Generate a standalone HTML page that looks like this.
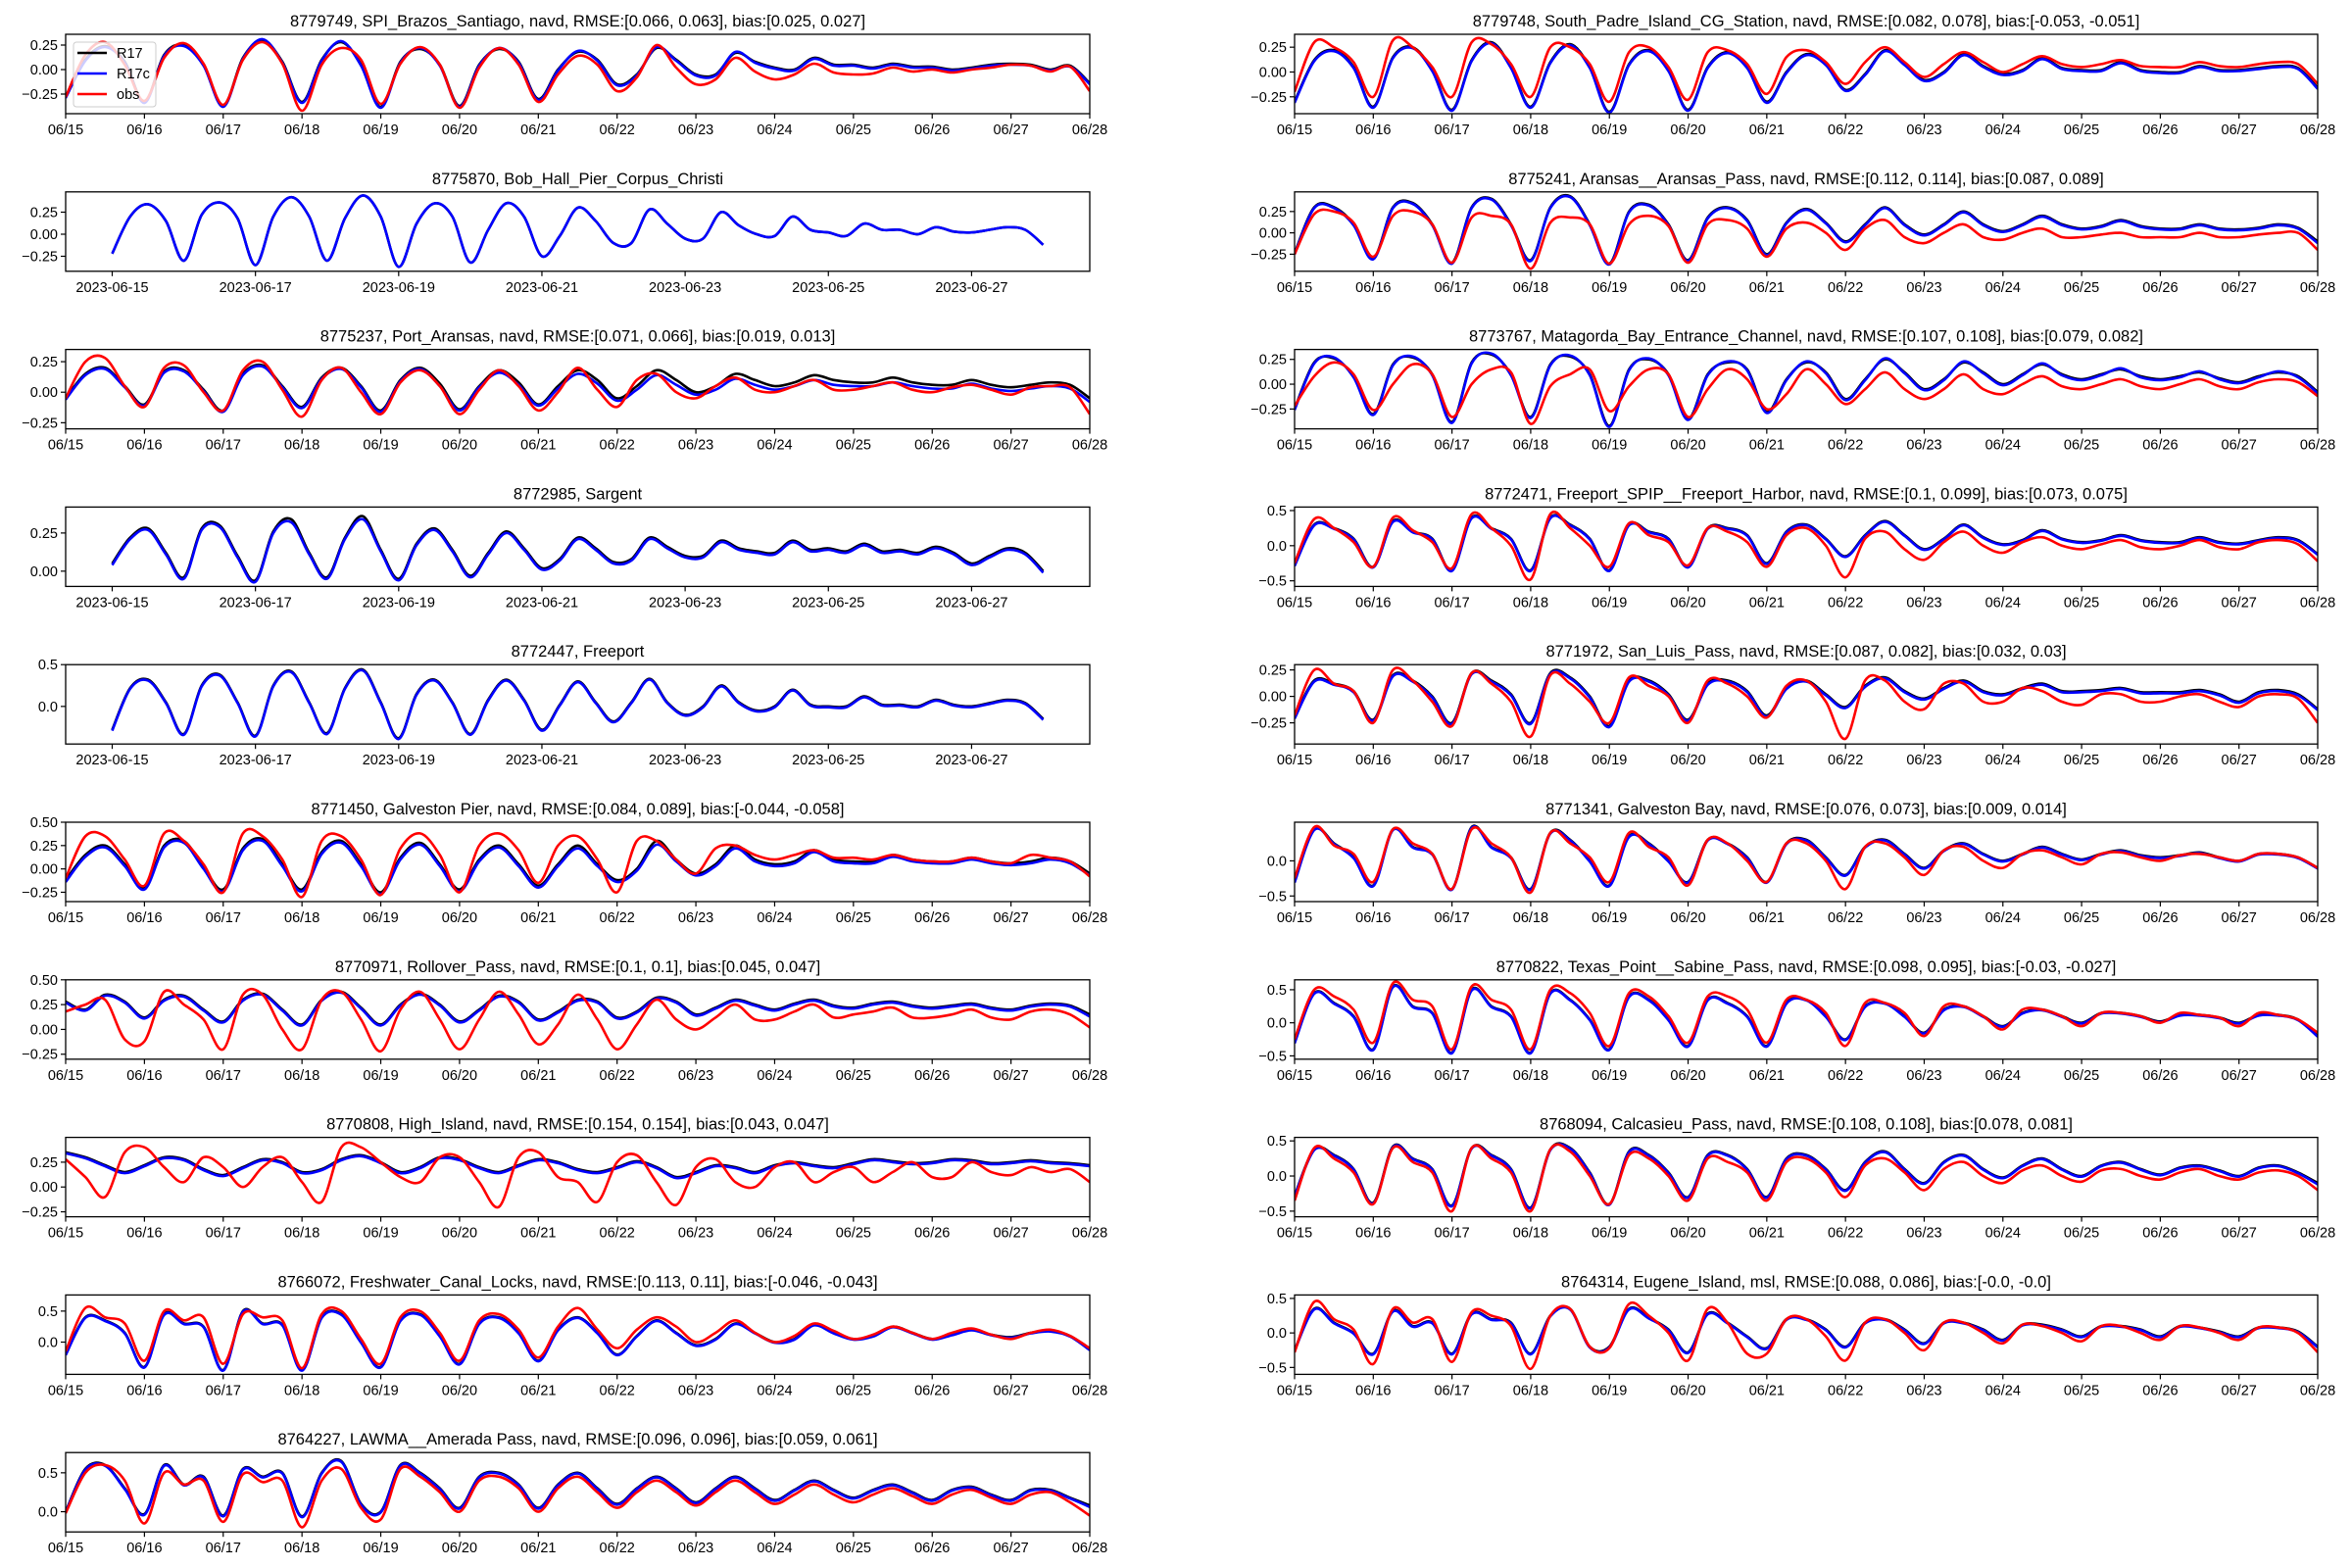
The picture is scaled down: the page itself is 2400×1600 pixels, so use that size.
<!DOCTYPE html>
<html><head><meta charset="utf-8">
<style>
html,body{margin:0;padding:0;background:#fff;}
svg{display:block;font-family:"Liberation Sans","DejaVu Sans",sans-serif;}
</style></head>
<body>
<svg id="fig" width="2400" height="1600" viewBox="0 0 2400 1600" xmlns="http://www.w3.org/2000/svg"></svg>
<script>
// ---- data: water level (m), sampled every 6 h from 2023-06-15 00:00 to 2023-06-28 00:00 ----
const dayLabels = ["06/15","06/16","06/17","06/18","06/19","06/20","06/21","06/22","06/23","06/24","06/25","06/26","06/27","06/28"];
const isoLabels = ["2023-06-15","2023-06-17","2023-06-19","2023-06-21","2023-06-23","2023-06-25","2023-06-27"];
const seriesNames = ["R17","R17c","obs"];

// L0 8779749 SPI_Brazos_Santiago
const r17_8779749  = [-0.28,0.10,0.24,0.08,-0.33,0.15,0.25,0.05,-0.37,0.12,0.30,0.08,-0.33,0.10,0.28,0.05,-0.38,0.08,0.21,0.05,-0.37,0.05,0.21,0.08,-0.30,0.00,0.18,0.10,-0.15,-0.05,0.22,0.10,-0.05,-0.05,0.17,0.08,0.02,0.00,0.12,0.05,0.05,0.02,0.06,0.03,0.03,0.00,0.02,0.05,0.06,0.05,0.00,0.04,-0.14];
const r17c_8779749 = [-0.29,0.09,0.23,0.07,-0.34,0.14,0.24,0.04,-0.38,0.11,0.31,0.07,-0.34,0.09,0.29,0.04,-0.39,0.07,0.22,0.04,-0.38,0.04,0.22,0.07,-0.31,-0.01,0.19,0.09,-0.16,-0.06,0.23,0.09,-0.06,-0.06,0.18,0.07,0.01,-0.01,0.11,0.04,0.04,0.01,0.05,0.02,0.02,-0.01,0.01,0.04,0.05,0.04,-0.01,0.03,-0.15];
const obs_8779749  = [-0.28,0.15,0.28,0.05,-0.32,0.12,0.27,0.06,-0.36,0.10,0.28,0.06,-0.42,0.05,0.22,0.10,-0.35,0.06,0.23,0.05,-0.39,0.02,0.22,0.05,-0.33,-0.05,0.14,0.05,-0.22,-0.08,0.25,0.02,-0.15,-0.10,0.12,-0.02,-0.10,-0.05,0.06,-0.03,-0.05,-0.04,0.02,-0.02,0.00,-0.03,0.00,0.02,0.05,0.04,-0.02,0.03,-0.22];
// L1 8775870 Bob_Hall_Pier_Corpus_Christi
const r17_8775870  = [-0.22,0.20,0.34,0.15,-0.30,0.22,0.36,0.18,-0.35,0.20,0.42,0.20,-0.30,0.18,0.44,0.20,-0.37,0.12,0.35,0.20,-0.32,0.05,0.35,0.20,-0.25,-0.02,0.30,0.15,-0.10,-0.10,0.28,0.12,-0.05,-0.05,0.25,0.10,0.00,-0.02,0.20,0.05,0.02,-0.02,0.12,0.05,0.05,0.00,0.08,0.03,0.02,0.05,0.08,0.05,-0.12];
const r17c_8775870 = [-0.22,0.20,0.34,0.15,-0.30,0.22,0.36,0.18,-0.35,0.20,0.42,0.20,-0.30,0.18,0.44,0.20,-0.37,0.12,0.35,0.20,-0.32,0.05,0.35,0.20,-0.25,-0.02,0.30,0.15,-0.10,-0.10,0.28,0.12,-0.05,-0.05,0.25,0.10,0.00,-0.02,0.20,0.05,0.02,-0.02,0.12,0.05,0.05,0.00,0.08,0.03,0.02,0.05,0.08,0.05,-0.12];
// L2 8775237 Port_Aransas
const r17_8775237  = [-0.05,0.15,0.20,0.05,-0.10,0.17,0.18,0.02,-0.15,0.15,0.22,0.05,-0.12,0.12,0.20,0.05,-0.15,0.10,0.20,0.07,-0.14,0.05,0.18,0.08,-0.10,0.05,0.18,0.10,-0.05,0.05,0.18,0.10,0.00,0.05,0.15,0.10,0.05,0.08,0.14,0.10,0.08,0.08,0.12,0.08,0.06,0.06,0.10,0.06,0.04,0.06,0.08,0.06,-0.05];
const r17c_8775237 = [-0.06,0.14,0.19,0.04,-0.11,0.16,0.17,0.01,-0.16,0.14,0.21,0.04,-0.13,0.11,0.19,0.04,-0.16,0.09,0.19,0.05,-0.15,0.04,0.16,0.06,-0.11,0.03,0.15,0.07,-0.07,0.02,0.14,0.06,-0.02,0.02,0.11,0.06,0.02,0.05,0.10,0.06,0.05,0.05,0.08,0.05,0.03,0.03,0.07,0.03,0.01,0.03,0.05,0.03,-0.08];
const obs_8775237  = [-0.05,0.25,0.28,0.05,-0.12,0.20,0.22,0.00,-0.15,0.18,0.25,0.02,-0.20,0.10,0.20,0.00,-0.18,0.08,0.18,0.05,-0.18,0.02,0.18,0.05,-0.15,0.00,0.20,0.02,-0.12,0.10,0.15,0.00,-0.05,0.05,0.12,0.02,0.00,0.05,0.10,0.02,0.02,0.05,0.08,0.02,0.00,0.04,0.06,0.02,-0.02,0.04,0.05,0.04,-0.18];
// L3 8772985 Sargent
const r17_8772985  = [0.05,0.22,0.28,0.12,-0.04,0.28,0.30,0.10,-0.06,0.26,0.34,0.12,-0.04,0.22,0.36,0.14,-0.05,0.18,0.28,0.14,-0.03,0.12,0.26,0.15,0.02,0.08,0.22,0.15,0.06,0.08,0.22,0.16,0.10,0.10,0.20,0.15,0.13,0.12,0.20,0.14,0.15,0.13,0.18,0.13,0.14,0.12,0.16,0.12,0.05,0.10,0.15,0.12,0.00];
const r17c_8772985 = [0.04,0.21,0.27,0.11,-0.05,0.27,0.29,0.09,-0.07,0.25,0.32,0.11,-0.05,0.21,0.34,0.13,-0.06,0.17,0.27,0.13,-0.04,0.11,0.25,0.14,0.01,0.07,0.21,0.14,0.05,0.07,0.21,0.15,0.09,0.09,0.19,0.14,0.12,0.11,0.19,0.13,0.14,0.12,0.17,0.12,0.13,0.11,0.15,0.11,0.04,0.09,0.14,0.11,-0.01];
// L4 8772447 Freeport
const r17_8772447  = [-0.28,0.22,0.32,0.05,-0.33,0.25,0.38,0.05,-0.35,0.25,0.42,0.05,-0.32,0.22,0.44,0.05,-0.38,0.15,0.32,0.05,-0.33,0.08,0.32,0.08,-0.28,0.02,0.30,0.05,-0.18,0.05,0.33,0.05,-0.10,0.00,0.25,0.05,-0.05,0.00,0.20,0.02,0.00,0.00,0.12,0.02,0.02,0.00,0.08,0.02,0.00,0.04,0.08,0.04,-0.15];
const r17c_8772447 = [-0.29,0.21,0.31,0.04,-0.34,0.24,0.37,0.04,-0.36,0.24,0.41,0.04,-0.33,0.21,0.43,0.04,-0.39,0.14,0.31,0.04,-0.34,0.07,0.31,0.07,-0.29,0.01,0.29,0.04,-0.19,0.04,0.32,0.04,-0.11,-0.01,0.24,0.04,-0.06,-0.01,0.19,0.01,-0.01,-0.01,0.11,0.01,0.01,-0.01,0.07,0.01,-0.01,0.03,0.07,0.03,-0.16];
// L5 8771450 Galveston Pier
const r17_8771450  = [-0.12,0.15,0.25,0.05,-0.20,0.25,0.30,0.02,-0.22,0.22,0.32,0.05,-0.22,0.18,0.30,0.05,-0.25,0.12,0.28,0.05,-0.22,0.10,0.25,0.05,-0.18,0.05,0.25,0.05,-0.12,0.00,0.30,0.10,-0.05,0.05,0.25,0.10,0.05,0.08,0.20,0.10,0.08,0.08,0.15,0.10,0.08,0.08,0.12,0.08,0.06,0.08,0.12,0.08,-0.05];
const r17c_8771450 = [-0.14,0.13,0.23,0.03,-0.22,0.23,0.28,0.00,-0.24,0.20,0.30,0.03,-0.24,0.16,0.28,0.03,-0.27,0.10,0.26,0.03,-0.24,0.08,0.23,0.03,-0.20,0.03,0.22,0.03,-0.14,-0.02,0.26,0.08,-0.07,0.03,0.22,0.08,0.03,0.06,0.18,0.08,0.06,0.06,0.13,0.08,0.06,0.06,0.10,0.06,0.04,0.06,0.10,0.06,-0.07];
const obs_8771450  = [-0.10,0.35,0.35,0.10,-0.18,0.38,0.30,0.05,-0.25,0.38,0.35,0.10,-0.30,0.30,0.35,0.10,-0.28,0.22,0.38,0.15,-0.25,0.25,0.38,0.20,-0.15,0.25,0.35,0.10,-0.25,0.30,0.30,0.10,-0.05,0.22,0.25,0.15,0.10,0.15,0.20,0.12,0.12,0.10,0.15,0.10,0.08,0.08,0.12,0.08,0.06,0.15,0.12,0.08,-0.08];
// L6 8770971 Rollover_Pass
const r17_8770971  = [0.28,0.20,0.35,0.28,0.12,0.30,0.34,0.20,0.08,0.30,0.36,0.20,0.05,0.30,0.38,0.22,0.05,0.25,0.36,0.25,0.08,0.20,0.34,0.28,0.10,0.18,0.30,0.28,0.12,0.18,0.32,0.28,0.15,0.22,0.30,0.25,0.20,0.26,0.30,0.24,0.22,0.26,0.28,0.24,0.22,0.24,0.26,0.22,0.20,0.24,0.26,0.24,0.15];
const r17c_8770971 = [0.27,0.19,0.34,0.27,0.11,0.29,0.33,0.19,0.07,0.29,0.35,0.19,0.04,0.29,0.37,0.21,0.04,0.24,0.35,0.24,0.07,0.19,0.33,0.27,0.09,0.17,0.29,0.27,0.11,0.17,0.31,0.27,0.14,0.21,0.29,0.24,0.19,0.25,0.29,0.23,0.21,0.25,0.27,0.23,0.21,0.23,0.25,0.21,0.19,0.23,0.25,0.23,0.13];
const obs_8770971  = [0.18,0.25,0.30,-0.10,-0.12,0.38,0.25,0.10,-0.20,0.35,0.35,0.00,-0.20,0.30,0.38,0.10,-0.22,0.20,0.38,0.10,-0.20,0.10,0.38,0.15,-0.15,0.05,0.35,0.10,-0.20,0.05,0.30,0.10,0.00,0.12,0.25,0.10,0.10,0.18,0.25,0.12,0.15,0.18,0.22,0.12,0.12,0.15,0.20,0.12,0.10,0.18,0.20,0.15,0.02];
// L7 8770808 High_Island
const r17_8770808  = [0.35,0.30,0.22,0.15,0.22,0.30,0.28,0.18,0.12,0.20,0.28,0.25,0.15,0.18,0.28,0.32,0.25,0.15,0.20,0.30,0.28,0.20,0.15,0.22,0.28,0.25,0.18,0.15,0.20,0.26,0.20,0.10,0.15,0.22,0.20,0.15,0.22,0.25,0.22,0.20,0.24,0.28,0.26,0.24,0.25,0.28,0.27,0.24,0.25,0.27,0.25,0.24,0.22];
const r17c_8770808 = [0.34,0.29,0.21,0.14,0.21,0.29,0.27,0.17,0.11,0.19,0.27,0.24,0.14,0.17,0.27,0.31,0.24,0.14,0.19,0.29,0.27,0.19,0.14,0.21,0.27,0.24,0.17,0.14,0.19,0.25,0.19,0.09,0.14,0.21,0.19,0.14,0.21,0.24,0.21,0.19,0.23,0.27,0.25,0.23,0.24,0.27,0.26,0.23,0.24,0.26,0.24,0.23,0.21];
const obs_8770808  = [0.28,0.10,-0.10,0.35,0.40,0.20,0.05,0.30,0.20,0.00,0.20,0.30,0.05,-0.15,0.40,0.40,0.25,0.10,0.05,0.30,0.30,0.05,-0.20,0.30,0.35,0.10,0.05,-0.15,0.25,0.32,0.05,-0.18,0.20,0.28,0.05,0.00,0.20,0.25,0.05,0.15,0.20,0.05,0.15,0.25,0.10,0.10,0.25,0.15,0.12,0.20,0.15,0.18,0.05];
// L8 8766072 Freshwater_Canal_Locks
const r17_8766072  = [-0.20,0.40,0.35,0.15,-0.40,0.45,0.30,0.25,-0.45,0.50,0.30,0.28,-0.45,0.40,0.45,0.00,-0.40,0.35,0.45,0.10,-0.35,0.30,0.40,0.15,-0.30,0.20,0.40,0.15,-0.20,0.10,0.35,0.15,-0.05,0.05,0.30,0.15,0.00,0.05,0.28,0.15,0.05,0.10,0.25,0.15,0.05,0.12,0.20,0.12,0.08,0.15,0.18,0.10,-0.12];
const r17c_8766072 = [-0.21,0.39,0.34,0.14,-0.41,0.44,0.29,0.24,-0.46,0.49,0.29,0.27,-0.46,0.39,0.44,-0.01,-0.41,0.34,0.44,0.09,-0.36,0.29,0.39,0.14,-0.31,0.19,0.39,0.14,-0.21,0.09,0.34,0.14,-0.06,0.04,0.29,0.14,-0.01,0.04,0.27,0.14,0.04,0.09,0.24,0.14,0.04,0.11,0.19,0.11,0.07,0.14,0.17,0.09,-0.13];
const obs_8766072  = [-0.15,0.55,0.40,0.30,-0.30,0.50,0.35,0.40,-0.35,0.45,0.40,0.35,-0.42,0.45,0.50,0.05,-0.35,0.40,0.50,0.15,-0.30,0.35,0.45,0.20,-0.25,0.25,0.55,0.20,-0.10,0.20,0.40,0.25,0.00,0.15,0.35,0.15,0.00,0.10,0.30,0.18,0.05,0.12,0.25,0.15,0.05,0.15,0.22,0.12,0.05,0.15,0.20,0.10,-0.10];
// L9 8764227 LAWMA__Amerada Pass
const r17_8764227  = [0.00,0.55,0.60,0.30,-0.03,0.60,0.35,0.45,-0.05,0.55,0.45,0.50,-0.06,0.50,0.65,0.10,0.00,0.60,0.50,0.30,0.05,0.45,0.50,0.35,0.05,0.35,0.50,0.30,0.10,0.30,0.45,0.30,0.12,0.30,0.45,0.30,0.15,0.28,0.40,0.28,0.18,0.28,0.35,0.25,0.15,0.28,0.32,0.22,0.15,0.28,0.28,0.18,0.08];
const r17c_8764227 = [-0.01,0.54,0.59,0.29,-0.04,0.59,0.34,0.44,-0.06,0.54,0.44,0.49,-0.07,0.49,0.64,0.09,-0.01,0.59,0.49,0.29,0.04,0.44,0.49,0.34,0.04,0.34,0.49,0.29,0.09,0.29,0.44,0.29,0.11,0.29,0.44,0.29,0.14,0.27,0.39,0.27,0.17,0.27,0.34,0.24,0.14,0.27,0.31,0.21,0.14,0.27,0.27,0.17,0.06];
const obs_8764227  = [-0.02,0.50,0.60,0.40,-0.15,0.50,0.35,0.40,-0.13,0.48,0.38,0.40,-0.20,0.40,0.55,0.05,-0.10,0.55,0.45,0.25,0.00,0.40,0.45,0.30,0.00,0.30,0.45,0.25,0.05,0.25,0.40,0.25,0.08,0.25,0.40,0.25,0.10,0.22,0.35,0.22,0.12,0.22,0.30,0.20,0.10,0.22,0.28,0.18,0.10,0.22,0.25,0.12,-0.05];
// R0 8779748 South_Padre_Island_CG_Station
const r17_8779748  = [-0.30,0.12,0.22,0.05,-0.35,0.15,0.25,0.02,-0.38,0.12,0.30,0.05,-0.35,0.10,0.28,0.05,-0.40,0.08,0.22,0.02,-0.38,0.05,0.20,0.05,-0.30,0.00,0.18,0.08,-0.18,-0.02,0.22,0.08,-0.08,0.00,0.18,0.06,-0.02,0.02,0.14,0.04,0.02,0.02,0.10,0.02,0.00,0.00,0.06,0.02,0.02,0.04,0.06,0.04,-0.16];
const r17c_8779748 = [-0.31,0.11,0.21,0.04,-0.36,0.14,0.24,0.01,-0.39,0.11,0.29,0.04,-0.36,0.09,0.27,0.04,-0.41,0.07,0.21,0.01,-0.39,0.04,0.19,0.04,-0.31,-0.01,0.17,0.07,-0.19,-0.03,0.21,0.07,-0.09,-0.01,0.17,0.05,-0.03,0.01,0.13,0.03,0.01,0.01,0.09,0.01,-0.01,-0.01,0.05,0.01,0.01,0.03,0.05,0.03,-0.17];
const obs_8779748  = [-0.20,0.30,0.25,0.10,-0.25,0.32,0.25,0.05,-0.25,0.30,0.28,0.08,-0.25,0.25,0.25,0.08,-0.30,0.20,0.25,0.05,-0.28,0.20,0.22,0.08,-0.22,0.15,0.22,0.10,-0.12,0.10,0.25,0.10,-0.05,0.08,0.20,0.10,0.00,0.08,0.16,0.08,0.05,0.08,0.12,0.06,0.05,0.05,0.10,0.06,0.05,0.08,0.10,0.08,-0.12];
// R1 8775241 Aransas__Aransas_Pass
const r17_8775241  = [-0.24,0.30,0.30,0.10,-0.30,0.30,0.35,0.10,-0.35,0.30,0.40,0.10,-0.32,0.30,0.43,0.10,-0.36,0.25,0.33,0.10,-0.32,0.18,0.30,0.15,-0.25,0.12,0.28,0.12,-0.10,0.10,0.30,0.10,-0.02,0.10,0.25,0.10,0.02,0.10,0.20,0.10,0.05,0.08,0.15,0.08,0.05,0.05,0.10,0.05,0.04,0.06,0.10,0.06,-0.10];
const r17c_8775241 = [-0.25,0.29,0.29,0.09,-0.31,0.29,0.34,0.09,-0.36,0.29,0.39,0.09,-0.33,0.29,0.42,0.09,-0.37,0.24,0.32,0.09,-0.33,0.17,0.29,0.14,-0.26,0.11,0.27,0.11,-0.11,0.09,0.29,0.09,-0.03,0.09,0.24,0.09,0.01,0.09,0.19,0.09,0.04,0.07,0.14,0.07,0.04,0.04,0.09,0.04,0.03,0.05,0.09,0.05,-0.12];
const obs_8775241  = [-0.25,0.22,0.25,0.12,-0.28,0.20,0.25,0.10,-0.35,0.18,0.20,0.10,-0.42,0.12,0.18,0.10,-0.36,0.10,0.20,0.08,-0.35,0.10,0.15,0.05,-0.28,0.05,0.12,0.00,-0.20,0.05,0.15,-0.05,-0.12,0.00,0.10,-0.05,-0.08,0.00,0.05,-0.05,-0.05,-0.02,0.00,-0.05,-0.05,-0.05,0.00,-0.05,-0.05,-0.02,0.00,0.00,-0.20];
// R2 8773767 Matagorda_Bay_Entrance_Channel
const r17_8773767  = [-0.25,0.22,0.26,0.08,-0.30,0.20,0.27,0.10,-0.38,0.22,0.30,0.10,-0.33,0.20,0.28,0.10,-0.42,0.15,0.25,0.10,-0.35,0.10,0.22,0.15,-0.28,0.05,0.22,0.12,-0.15,0.05,0.25,0.12,-0.05,0.05,0.22,0.12,0.00,0.10,0.20,0.10,0.05,0.10,0.15,0.08,0.05,0.08,0.12,0.06,0.02,0.08,0.12,0.08,-0.08];
const r17c_8773767 = [-0.26,0.21,0.27,0.07,-0.31,0.19,0.28,0.09,-0.39,0.21,0.31,0.09,-0.34,0.19,0.29,0.09,-0.43,0.14,0.26,0.09,-0.36,0.09,0.23,0.14,-0.29,0.04,0.23,0.11,-0.16,0.04,0.26,0.11,-0.06,0.04,0.23,0.11,-0.01,0.09,0.21,0.09,0.04,0.09,0.16,0.07,0.04,0.07,0.13,0.05,0.01,0.07,0.13,0.07,-0.09];
const obs_8773767  = [-0.22,0.08,0.22,0.10,-0.26,0.00,0.20,0.10,-0.33,0.00,0.15,0.12,-0.40,-0.02,0.10,0.15,-0.27,-0.02,0.15,0.10,-0.33,-0.05,0.15,0.05,-0.25,-0.10,0.15,0.00,-0.20,-0.05,0.12,-0.05,-0.15,-0.05,0.10,-0.05,-0.10,0.00,0.08,-0.02,-0.05,0.00,0.05,-0.02,-0.05,0.00,0.05,-0.02,-0.05,0.02,0.05,0.02,-0.12];
// R3 8772471 Freeport_SPIP__Freeport_Harbor
const r17_8772471  = [-0.28,0.30,0.25,0.10,-0.30,0.35,0.20,0.10,-0.35,0.40,0.25,0.10,-0.35,0.40,0.30,0.10,-0.35,0.30,0.20,0.10,-0.30,0.25,0.25,0.15,-0.25,0.20,0.30,0.10,-0.15,0.15,0.35,0.15,-0.05,0.10,0.30,0.12,0.02,0.08,0.22,0.10,0.05,0.08,0.15,0.08,0.05,0.05,0.12,0.05,0.03,0.08,0.12,0.08,-0.12];
const r17c_8772471 = [-0.29,0.29,0.24,0.09,-0.31,0.34,0.19,0.09,-0.36,0.39,0.24,0.09,-0.36,0.39,0.29,0.09,-0.36,0.29,0.19,0.09,-0.31,0.24,0.24,0.14,-0.26,0.19,0.29,0.09,-0.16,0.14,0.34,0.14,-0.06,0.09,0.29,0.11,0.01,0.07,0.21,0.09,0.04,0.07,0.14,0.07,0.04,0.04,0.11,0.04,0.02,0.07,0.11,0.07,-0.13];
const obs_8772471  = [-0.25,0.38,0.25,0.05,-0.30,0.40,0.22,0.05,-0.32,0.45,0.25,0.00,-0.48,0.45,0.25,0.00,-0.30,0.32,0.15,0.05,-0.28,0.25,0.20,0.05,-0.30,0.15,0.25,0.00,-0.45,0.10,0.20,-0.05,-0.20,0.05,0.20,0.00,-0.10,0.05,0.12,0.00,-0.05,0.02,0.08,-0.02,-0.05,0.00,0.08,-0.02,-0.05,0.05,0.08,0.02,-0.22];
// R4 8771972 San_Luis_Pass
const r17_8771972  = [-0.20,0.15,0.12,0.05,-0.22,0.20,0.15,0.00,-0.25,0.22,0.15,0.02,-0.25,0.22,0.18,0.00,-0.28,0.15,0.15,0.02,-0.22,0.12,0.15,0.05,-0.18,0.08,0.15,0.02,-0.10,0.10,0.18,0.05,-0.02,0.08,0.15,0.05,0.02,0.08,0.12,0.05,0.05,0.06,0.08,0.04,0.04,0.04,0.06,0.02,-0.05,0.04,0.06,0.02,-0.12];
const r17c_8771972 = [-0.21,0.14,0.11,0.04,-0.23,0.19,0.14,-0.01,-0.26,0.21,0.14,0.01,-0.26,0.21,0.17,-0.01,-0.29,0.14,0.14,0.01,-0.23,0.11,0.14,0.04,-0.19,0.07,0.14,0.01,-0.11,0.09,0.17,0.04,-0.03,0.07,0.14,0.04,0.01,0.07,0.11,0.04,0.04,0.05,0.07,0.03,0.03,0.03,0.05,0.01,-0.06,0.03,0.05,0.01,-0.13];
const obs_8771972  = [-0.18,0.25,0.12,0.05,-0.25,0.25,0.15,-0.05,-0.28,0.22,0.12,-0.05,-0.38,0.20,0.12,-0.05,-0.25,0.18,0.10,0.00,-0.25,0.15,0.12,0.00,-0.20,0.10,0.15,-0.05,-0.40,0.15,0.15,-0.05,-0.12,0.12,0.12,-0.05,-0.05,0.08,0.05,-0.05,-0.08,0.02,0.02,-0.05,-0.05,0.00,0.02,-0.05,-0.10,0.00,0.02,-0.02,-0.25];
// R5 8771341 Galveston Bay
const r17_8771341  = [-0.30,0.45,0.25,0.05,-0.35,0.45,0.20,0.10,-0.40,0.48,0.20,0.05,-0.40,0.40,0.30,0.00,-0.35,0.35,0.25,0.00,-0.30,0.30,0.25,0.05,-0.30,0.25,0.30,0.05,-0.20,0.20,0.30,0.10,-0.10,0.15,0.25,0.10,0.00,0.10,0.20,0.10,0.02,0.10,0.15,0.08,0.05,0.08,0.12,0.05,0.00,0.10,0.10,0.05,-0.10];
const r17c_8771341 = [-0.31,0.44,0.24,0.04,-0.36,0.44,0.19,0.09,-0.41,0.47,0.19,0.04,-0.41,0.39,0.29,-0.01,-0.36,0.34,0.24,-0.01,-0.31,0.29,0.24,0.04,-0.31,0.24,0.29,0.04,-0.21,0.19,0.29,0.09,-0.11,0.14,0.24,0.09,-0.01,0.09,0.19,0.09,0.01,0.09,0.14,0.07,0.04,0.07,0.11,0.04,-0.01,0.09,0.09,0.04,-0.11];
const obs_8771341  = [-0.25,0.48,0.22,0.10,-0.30,0.45,0.25,0.10,-0.40,0.45,0.25,0.05,-0.45,0.40,0.25,0.05,-0.30,0.40,0.20,0.05,-0.35,0.30,0.25,0.00,-0.30,0.25,0.25,0.00,-0.40,0.20,0.25,0.05,-0.20,0.15,0.20,0.00,-0.10,0.10,0.15,0.05,-0.05,0.10,0.12,0.05,0.00,0.08,0.10,0.05,0.00,0.10,0.10,0.05,-0.10];
// R6 8770822 Texas_Point__Sabine_Pass
const r17_8770822  = [-0.30,0.45,0.30,0.10,-0.40,0.55,0.25,0.15,-0.45,0.50,0.25,0.10,-0.45,0.45,0.35,0.05,-0.40,0.40,0.35,0.05,-0.35,0.35,0.30,0.10,-0.35,0.30,0.35,0.10,-0.25,0.25,0.30,0.10,-0.15,0.20,0.25,0.10,-0.05,0.15,0.20,0.10,0.00,0.15,0.15,0.10,0.02,0.12,0.12,0.08,0.00,0.12,0.12,0.05,-0.20];
const r17c_8770822 = [-0.31,0.44,0.29,0.09,-0.41,0.54,0.24,0.14,-0.46,0.49,0.24,0.09,-0.46,0.44,0.34,0.04,-0.41,0.39,0.34,0.04,-0.36,0.34,0.29,0.09,-0.36,0.29,0.34,0.09,-0.26,0.24,0.29,0.09,-0.16,0.19,0.24,0.09,-0.06,0.14,0.19,0.09,-0.01,0.14,0.14,0.09,0.01,0.11,0.11,0.07,-0.01,0.11,0.11,0.04,-0.21];
const obs_8770822  = [-0.25,0.50,0.40,0.20,-0.30,0.60,0.35,0.25,-0.40,0.55,0.35,0.20,-0.40,0.50,0.45,0.15,-0.35,0.45,0.40,0.10,-0.30,0.40,0.40,0.20,-0.30,0.35,0.35,0.15,-0.35,0.30,0.30,0.15,-0.20,0.25,0.25,0.10,-0.10,0.20,0.20,0.10,-0.05,0.15,0.15,0.10,0.00,0.15,0.12,0.08,-0.05,0.15,0.12,0.05,-0.15];
// R7 8768094 Calcasieu_Pass
const r17_8768094  = [-0.28,0.38,0.30,0.10,-0.38,0.42,0.25,0.10,-0.42,0.40,0.30,0.10,-0.45,0.38,0.40,0.05,-0.40,0.35,0.30,0.05,-0.30,0.30,0.30,0.10,-0.30,0.25,0.30,0.10,-0.20,0.20,0.35,0.10,-0.10,0.20,0.30,0.10,-0.02,0.15,0.25,0.10,0.00,0.15,0.20,0.10,0.02,0.12,0.15,0.08,0.00,0.12,0.15,0.05,-0.10];
const r17c_8768094 = [-0.29,0.37,0.29,0.09,-0.39,0.41,0.24,0.09,-0.43,0.39,0.29,0.09,-0.46,0.37,0.39,0.04,-0.41,0.34,0.29,0.04,-0.31,0.29,0.29,0.09,-0.31,0.24,0.29,0.09,-0.21,0.19,0.34,0.09,-0.11,0.19,0.29,0.09,-0.03,0.14,0.24,0.09,-0.01,0.14,0.19,0.09,0.01,0.11,0.14,0.07,-0.01,0.11,0.14,0.04,-0.12];
const obs_8768094  = [-0.35,0.40,0.25,0.05,-0.40,0.40,0.20,0.05,-0.50,0.40,0.25,0.05,-0.50,0.38,0.35,0.00,-0.40,0.30,0.25,0.00,-0.35,0.25,0.20,0.05,-0.35,0.20,0.25,0.05,-0.30,0.15,0.25,0.05,-0.20,0.10,0.20,0.00,-0.10,0.08,0.15,0.00,-0.08,0.08,0.10,0.00,-0.05,0.05,0.10,0.00,-0.05,0.05,0.08,0.00,-0.20];
// R8 8764314 Eugene_Island
const r17_8764314  = [-0.25,0.35,0.15,0.00,-0.30,0.32,0.10,0.15,-0.30,0.28,0.20,0.15,-0.30,0.25,0.35,-0.20,-0.20,0.35,0.22,0.05,-0.28,0.28,0.15,-0.05,-0.22,0.20,0.20,0.05,-0.20,0.15,0.20,0.05,-0.15,0.15,0.15,0.05,-0.10,0.12,0.12,0.05,-0.05,0.10,0.10,0.05,-0.05,0.10,0.08,0.02,-0.05,0.08,0.08,0.02,-0.20];
const r17c_8764314 = [-0.26,0.34,0.14,-0.01,-0.31,0.31,0.09,0.14,-0.31,0.27,0.19,0.14,-0.31,0.24,0.34,-0.21,-0.21,0.34,0.21,0.04,-0.29,0.27,0.14,-0.06,-0.23,0.19,0.19,0.04,-0.21,0.14,0.19,0.04,-0.16,0.14,0.14,0.04,-0.11,0.11,0.11,0.04,-0.06,0.09,0.09,0.04,-0.06,0.09,0.07,0.01,-0.06,0.07,0.07,0.01,-0.21];
const obs_8764314  = [-0.28,0.45,0.20,0.05,-0.45,0.35,0.15,0.20,-0.42,0.30,0.25,0.10,-0.52,0.25,0.35,-0.20,-0.22,0.42,0.25,0.00,-0.40,0.35,0.15,-0.30,-0.30,0.20,0.20,-0.05,-0.40,0.15,0.20,0.00,-0.25,0.15,0.15,0.00,-0.15,0.12,0.10,0.00,-0.12,0.10,0.10,0.00,-0.10,0.10,0.08,0.00,-0.10,0.08,0.08,0.00,-0.28];

// ---- layout (pixels) ----
const panels = [
 {id:"8779749",title:"8779749, SPI_Brazos_Santiago, navd, RMSE:[0.066, 0.063], bias:[0.025, 0.027]",col:0,row:0,ylim:[-0.45,0.36],yt:[-0.25,0,0.25],dec:2,iso:false,r17:r17_8779749,r17c:r17c_8779749,obs:obs_8779749,legend:true},
 {id:"8775870",title:"8775870, Bob_Hall_Pier_Corpus_Christi",col:0,row:1,ylim:[-0.42,0.48],yt:[-0.25,0,0.25],dec:2,iso:true,r17:r17_8775870,r17c:r17c_8775870,obs:null},
 {id:"8775237",title:"8775237, Port_Aransas, navd, RMSE:[0.071, 0.066], bias:[0.019, 0.013]",col:0,row:2,ylim:[-0.3,0.35],yt:[-0.25,0,0.25],dec:2,iso:false,r17:r17_8775237,r17c:r17c_8775237,obs:obs_8775237},
 {id:"8772985",title:"8772985, Sargent",col:0,row:3,ylim:[-0.1,0.42],yt:[0,0.25],dec:2,iso:true,r17:r17_8772985,r17c:r17c_8772985,obs:null},
 {id:"8772447",title:"8772447, Freeport",col:0,row:4,ylim:[-0.45,0.5],yt:[0,0.5],dec:1,iso:true,r17:r17_8772447,r17c:r17c_8772447,obs:null},
 {id:"8771450",title:"8771450, Galveston Pier, navd, RMSE:[0.084, 0.089], bias:[-0.044, -0.058]",col:0,row:5,ylim:[-0.35,0.5],yt:[-0.25,0,0.25,0.5],dec:2,iso:false,r17:r17_8771450,r17c:r17c_8771450,obs:obs_8771450},
 {id:"8770971",title:"8770971, Rollover_Pass, navd, RMSE:[0.1, 0.1], bias:[0.045, 0.047]",col:0,row:6,ylim:[-0.3,0.5],yt:[-0.25,0,0.25,0.5],dec:2,iso:false,r17:r17_8770971,r17c:r17c_8770971,obs:obs_8770971},
 {id:"8770808",title:"8770808, High_Island, navd, RMSE:[0.154, 0.154], bias:[0.043, 0.047]",col:0,row:7,ylim:[-0.3,0.5],yt:[-0.25,0,0.25],dec:2,iso:false,r17:r17_8770808,r17c:r17c_8770808,obs:obs_8770808},
 {id:"8766072",title:"8766072, Freshwater_Canal_Locks, navd, RMSE:[0.113, 0.11], bias:[-0.046, -0.043]",col:0,row:8,ylim:[-0.52,0.76],yt:[0,0.5],dec:1,iso:false,r17:r17_8766072,r17c:r17c_8766072,obs:obs_8766072},
 {id:"8764227",title:"8764227, LAWMA__Amerada Pass, navd, RMSE:[0.096, 0.096], bias:[0.059, 0.061]",col:0,row:9,ylim:[-0.26,0.76],yt:[0,0.5],dec:1,iso:false,r17:r17_8764227,r17c:r17c_8764227,obs:obs_8764227},
 {id:"8779748",title:"8779748, South_Padre_Island_CG_Station, navd, RMSE:[0.082, 0.078], bias:[-0.053, -0.051]",col:1,row:0,ylim:[-0.42,0.38],yt:[-0.25,0,0.25],dec:2,iso:false,r17:r17_8779748,r17c:r17c_8779748,obs:obs_8779748},
 {id:"8775241",title:"8775241, Aransas__Aransas_Pass, navd, RMSE:[0.112, 0.114], bias:[0.087, 0.089]",col:1,row:1,ylim:[-0.45,0.48],yt:[-0.25,0,0.25],dec:2,iso:false,r17:r17_8775241,r17c:r17c_8775241,obs:obs_8775241},
 {id:"8773767",title:"8773767, Matagorda_Bay_Entrance_Channel, navd, RMSE:[0.107, 0.108], bias:[0.079, 0.082]",col:1,row:2,ylim:[-0.45,0.35],yt:[-0.25,0,0.25],dec:2,iso:false,r17:r17_8773767,r17c:r17c_8773767,obs:obs_8773767},
 {id:"8772471",title:"8772471, Freeport_SPIP__Freeport_Harbor, navd, RMSE:[0.1, 0.099], bias:[0.073, 0.075]",col:1,row:3,ylim:[-0.58,0.55],yt:[-0.5,0,0.5],dec:1,iso:false,r17:r17_8772471,r17c:r17c_8772471,obs:obs_8772471},
 {id:"8771972",title:"8771972, San_Luis_Pass, navd, RMSE:[0.087, 0.082], bias:[0.032, 0.03]",col:1,row:4,ylim:[-0.45,0.3],yt:[-0.25,0,0.25],dec:2,iso:false,r17:r17_8771972,r17c:r17c_8771972,obs:obs_8771972},
 {id:"8771341",title:"8771341, Galveston Bay, navd, RMSE:[0.076, 0.073], bias:[0.009, 0.014]",col:1,row:5,ylim:[-0.58,0.55],yt:[-0.5,0],dec:1,iso:false,r17:r17_8771341,r17c:r17c_8771341,obs:obs_8771341},
 {id:"8770822",title:"8770822, Texas_Point__Sabine_Pass, navd, RMSE:[0.098, 0.095], bias:[-0.03, -0.027]",col:1,row:6,ylim:[-0.55,0.65],yt:[-0.5,0,0.5],dec:1,iso:false,r17:r17_8770822,r17c:r17c_8770822,obs:obs_8770822},
 {id:"8768094",title:"8768094, Calcasieu_Pass, navd, RMSE:[0.108, 0.108], bias:[0.078, 0.081]",col:1,row:7,ylim:[-0.58,0.55],yt:[-0.5,0,0.5],dec:1,iso:false,r17:r17_8768094,r17c:r17c_8768094,obs:obs_8768094},
 {id:"8764314",title:"8764314, Eugene_Island, msl, RMSE:[0.088, 0.086], bias:[-0.0, -0.0]",col:1,row:8,ylim:[-0.6,0.55],yt:[-0.5,0,0.5],dec:1,iso:false,r17:r17_8764314,r17c:r17c_8764314,obs:obs_8764314}
];

const NS = "http://www.w3.org/2000/svg";
const svg = document.getElementById("fig");
const COLX = [[67,1112],[1321,2365]];
const TOP0 = 35, ROWSTEP = 160.8, AXH = 81;

function mk(tag, attrs, parent){
  const e = document.createElementNS(NS, tag);
  for (const k in attrs) e.setAttribute(k, attrs[k]);
  (parent||svg).appendChild(e);
  return e;
}
function fmt(v, d){ let s = Math.abs(v).toFixed(d); return (v < -1e-9 ? "\u2212" : "") + s; }

function smoothPath(pts){
  let d = "M" + pts[0][0].toFixed(1) + "," + pts[0][1].toFixed(1);
  for (let i=0;i<pts.length-1;i++){
    const p0 = pts[Math.max(0,i-1)], p1 = pts[i], p2 = pts[i+1], p3 = pts[Math.min(pts.length-1,i+2)];
    const c1x = p1[0]+(p2[0]-p0[0])/6, c1y = p1[1]+(p2[1]-p0[1])/6;
    const c2x = p2[0]-(p3[0]-p1[0])/6, c2y = p2[1]-(p3[1]-p1[1])/6;
    d += " C"+c1x.toFixed(1)+","+c1y.toFixed(1)+" "+c2x.toFixed(1)+","+c2y.toFixed(1)+" "+p2[0].toFixed(1)+","+p2[1].toFixed(1);
  }
  return d;
}

panels.forEach(p => {
  const x0 = COLX[p.col][0], x1 = COLX[p.col][1];
  const y0 = TOP0 + p.row*ROWSTEP, y1 = y0 + AXH;
  const dmin = p.iso ? -0.65 : 0, dmax = p.iso ? 13.65 : 13;
  const xs = d => x0 + (d - dmin)/(dmax - dmin)*(x1 - x0);
  const ys = v => y1 - (v - p.ylim[0])/(p.ylim[1]-p.ylim[0])*(y1 - y0);

  const g = mk("g", {});
  
  

  const title = mk("text", {x:(x0+x1)/2, y:y0-8, "text-anchor":"middle", "font-size":"16.5", fill:"#000"}, g);
  title.textContent = p.title;
  
  

  const clipId = "clip" + p.id;
  const cp = mk("clipPath", {id:clipId}, g);
  mk("rect", {x:x0, y:y0, width:x1-x0, height:y1-y0}, cp);

  // series
  const series = [["r17","#000000",p.r17],["r17c","#0000ff",p.r17c],["obs","#ff0000",p.obs]];
  series.forEach(s => {
    if (!s[2]) return;
    const pts = s[2].map((v,i) => [xs(i*0.25), ys(v)]);
    const path = mk("path", {d:smoothPath(pts), fill:"none", stroke:s[1], "stroke-width":"2.6", "stroke-linejoin":"round", "clip-path":"url(#"+clipId+")"}, g);
    
    
  });

  // frame
  const frame = mk("rect", {x:x0, y:y0, width:x1-x0, height:y1-y0, fill:"none", stroke:"#000", "stroke-width":"1.3"}, g);
  
  

  // y ticks
  p.yt.forEach(v => {
    const y = ys(v);
    mk("line", {x1:x0-5, x2:x0, y1:y, y2:y, stroke:"#000", "stroke-width":"1.2"}, g);
    const t = mk("text", {x:x0-8, y:y+5, "text-anchor":"end", "font-size":"14.5", fill:"#000"}, g);
    t.textContent = fmt(v, p.dec);
    
    
  });

  // x ticks
  const labels = p.iso ? isoLabels : dayLabels;
  labels.forEach((lab, i) => {
    const d = p.iso ? i*2 : i;
    const x = xs(d);
    mk("line", {x1:x, x2:x, y1:y1, y2:y1+5, stroke:"#000", "stroke-width":"1.2"}, g);
    const t = mk("text", {x:x, y:y1+21, "text-anchor":"middle", "font-size":"14.5", fill:"#000"}, g);
    t.textContent = lab;
    
    
  });

  if (p.legend){
    const lg = mk("g", {}, g);
    
    
    mk("rect", {x:75, y:43, width:84, height:66, rx:3, fill:"#fff", "fill-opacity":"0.8", stroke:"#ccc", "stroke-width":"1"}, lg);
    const cols = ["#000000","#0000ff","#ff0000"];
    seriesNames.forEach((n, i) => {
      const yy = 54 + i*21;
      const ln = mk("line", {x1:79, x2:109, y1:yy, y2:yy, stroke:cols[i], "stroke-width":"2.6"}, lg);
      
      
      const tx = mk("text", {x:119, y:yy+5, "font-size":"14.5", fill:"#000"}, lg);
      tx.textContent = n;
      
      
    });
  }
});
</script>
</body></html>
